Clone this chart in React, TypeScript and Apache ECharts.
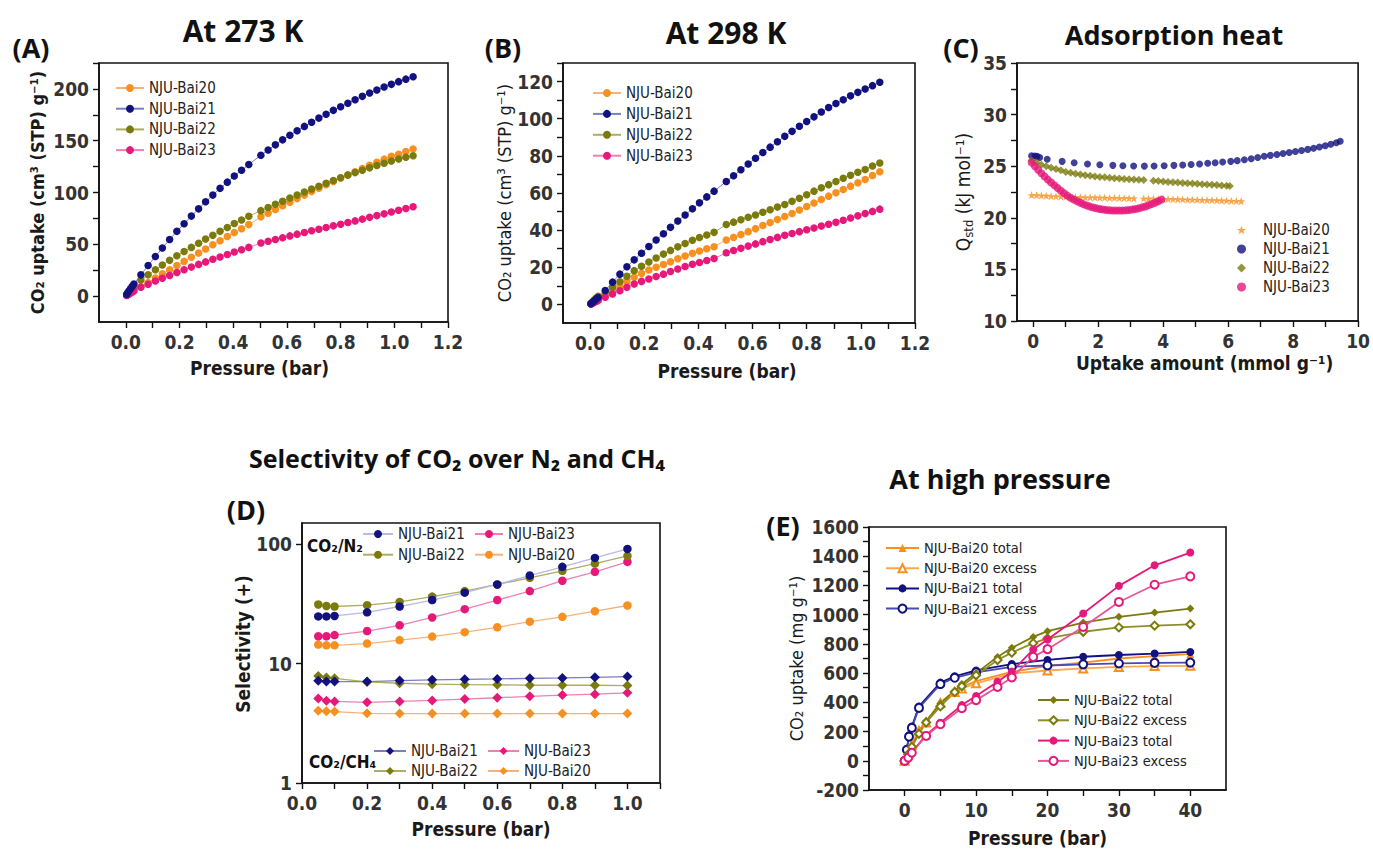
import React, { useEffect, useRef } from "react";
import * as echarts from "echarts";

// ---------- Panel A / B : isotherms (pressure in bar) ----------
const pressureIso = [0.003, 0.007, 0.012, 0.018, 0.024, 0.03, 0.056, 0.083, 0.110, 0.136, 0.163, 0.190, 0.217, 0.244, 0.271, 0.297, 0.324, 0.351, 0.378, 0.404, 0.431, 0.458, 0.503, 0.530, 0.557, 0.584, 0.611, 0.638, 0.665, 0.692, 0.719, 0.746, 0.773, 0.800, 0.827, 0.854, 0.881, 0.908, 0.935, 0.962, 0.989, 1.016, 1.043, 1.070];

const a273Bai20 = [0.8, 1.6, 2.5, 3.6, 4.6, 5.6, 9, 13, 17.5, 21.5, 25.5, 29.5, 33.5, 37.5, 41.5, 45.5, 49.5, 53.5, 57.5, 61.3, 65, 69, 76.5, 80, 83.6, 87.2, 90.7, 94.1, 97.5, 100.9, 104.2, 107.5, 110.7, 113.9, 117, 120.1, 123.2, 126.2, 129.2, 132.2, 135, 137, 139.5, 142];
const a273Bai21 = [1.5, 3.2, 5.2, 7.4, 9.6, 11.6, 20.5, 29.5, 38.2, 46.5, 54.6, 62.5, 69.8, 77.2, 84.2, 91, 97.5, 104, 110, 116, 121.5, 127, 136, 141, 146, 150.8, 155.3, 159.6, 163.8, 167.8, 171.8, 175.6, 179.3, 182.8, 186.2, 189.6, 192.8, 196, 199, 201.8, 204.4, 207, 209.4, 211.8];
const a273Bai22 = [1.2, 2.5, 4, 5.8, 7.5, 9, 15.5, 20.5, 25.5, 30, 34.5, 39, 43, 47, 51, 55, 58.8, 62.5, 66.2, 70, 73.5, 77, 82.5, 85.6, 88.6, 91.6, 94.6, 97.5, 100.4, 103.3, 106.1, 108.9, 111.6, 114.3, 116.8, 119.2, 121.5, 123.8, 126, 128.2, 130.3, 132.3, 134, 135.5];
const a273Bai23 = [0.5, 1.2, 2, 3, 4, 5, 8.5, 11.5, 14.5, 17.3, 20, 22.8, 25.5, 28, 30.6, 33, 35.5, 37.8, 40.2, 42.5, 44.7, 47, 51.3, 53, 54.7, 56.4, 58.1, 59.8, 61.4, 63, 64.6, 66.2, 67.8, 69.4, 71, 72.6, 74.3, 76, 77.7, 79.4, 81.1, 82.8, 84.5, 86.2];

const b298Bai20 = [0.3, 0.7, 1.1, 1.6, 2.1, 2.6, 4.8, 7.3, 9.8, 12.3, 14.7, 16.7, 18.5, 20, 21.5, 23, 24.6, 26.1, 27.5, 28.8, 30, 31.1, 34.7, 36.1, 37.6, 39.2, 40.8, 42.5, 44.1, 45.7, 47.3, 49, 50.8, 52.7, 54.6, 56.5, 58.3, 60.1, 61.9, 63.7, 65.5, 67.3, 69.4, 71.4];
const b298Bai21 = [0.4, 0.9, 1.5, 2.2, 3, 3.7, 7.5, 12, 16.3, 20.3, 24, 27.6, 31.2, 34.7, 38.1, 41.5, 44.9, 48.2, 51.5, 54.7, 57.9, 61, 66.2, 69.3, 72.5, 75.6, 78.7, 81.8, 84.7, 87.6, 90.5, 93.2, 95.9, 98.5, 101, 103.6, 106, 108.2, 110.2, 112.3, 114.2, 116, 117.8, 119.6];
const b298Bai22 = [0.5, 1.1, 1.9, 2.8, 3.6, 4.4, 6.5, 9.2, 12.2, 15.2, 18.2, 20.5, 22.8, 25, 27.1, 29.1, 31, 32.8, 34.5, 36, 37.4, 38.8, 43, 44.3, 45.6, 46.9, 48.2, 49.6, 51, 52.4, 53.8, 55.5, 57.2, 59.1, 61, 62.8, 64.5, 66.2, 67.9, 69.6, 71.2, 72.7, 74.5, 76.2];
const b298Bai23 = [0.2, 0.5, 0.9, 1.3, 1.7, 2.1, 3.8, 5.6, 7.4, 9.2, 11, 12.4, 13.7, 15, 16.3, 17.7, 19.1, 20.4, 21.6, 22.6, 23.7, 24.7, 27.8, 29, 30.2, 31.4, 32.6, 33.8, 35, 36.1, 37.2, 38.2, 39.2, 40.2, 41.2, 42.2, 43.2, 44.2, 45.3, 46.5, 47.7, 48.9, 50.1, 51.3];

// ---------- Panel C : adsorption heat ----------
const uptakeBai20 = [-0.05, 0.1, 0.25, 0.4, 0.55, 0.7, 0.85, 1.0, 1.15, 1.3, 1.45, 1.6, 1.75, 1.9, 2.05, 2.2, 2.35, 2.5, 2.65, 2.8, 2.95, 3.1, 3.4, 3.55, 3.7, 3.85, 4.0, 4.15, 4.3, 4.45, 4.6, 4.75, 4.9, 5.05, 5.2, 5.35, 5.5, 5.65, 5.8, 5.95, 6.1, 6.25, 6.4];
const heatBai20 = [22.2, 22.18, 22.15, 22.13, 22.1, 22.08, 22.06, 22.04, 22.02, 22.0, 21.99, 21.98, 21.97, 21.96, 21.95, 21.94, 21.93, 21.92, 21.91, 21.9, 21.89, 21.88, 21.86, 21.85, 21.84, 21.83, 21.82, 21.81, 21.8, 21.79, 21.78, 21.76, 21.75, 21.74, 21.72, 21.71, 21.7, 21.68, 21.67, 21.65, 21.64, 21.62, 21.6];
const uptakeBai21 = [-0.05, 0.05, 0.12, 0.2, 0.43, 0.89, 1.26, 1.67, 2.05, 2.45, 2.76, 3.09, 3.42, 3.72, 4.03, 4.33, 4.6, 4.86, 5.12, 5.37, 5.6, 5.83, 6.08, 6.28, 6.5, 6.71, 6.91, 7.11, 7.3, 7.5, 7.69, 7.88, 8.07, 8.26, 8.45, 8.63, 8.81, 8.99, 9.16, 9.33, 9.45];
const heatBai21 = [26.0, 25.98, 25.95, 25.85, 25.67, 25.47, 25.33, 25.22, 25.14, 25.08, 25.04, 25.02, 25.01, 25.02, 25.04, 25.08, 25.12, 25.17, 25.22, 25.28, 25.34, 25.4, 25.47, 25.54, 25.62, 25.72, 25.84, 25.96, 26.05, 26.14, 26.23, 26.32, 26.42, 26.52, 26.63, 26.74, 26.86, 26.98, 27.12, 27.28, 27.42];
const uptakeBai22 = [-0.05, 0.1, 0.25, 0.4, 0.55, 0.7, 0.85, 1.0, 1.15, 1.3, 1.45, 1.6, 1.75, 1.9, 2.05, 2.2, 2.35, 2.5, 2.65, 2.8, 2.95, 3.1, 3.25, 3.4, 3.7, 3.85, 4.0, 4.15, 4.3, 4.45, 4.6, 4.75, 4.9, 5.05, 5.2, 5.35, 5.5, 5.65, 5.8, 5.95, 6.05];
const heatBai22 = [25.55, 25.35, 25.15, 25.0, 24.85, 24.73, 24.6, 24.45, 24.36, 24.28, 24.2, 24.13, 24.07, 24.01, 23.96, 23.92, 23.88, 23.84, 23.8, 23.77, 23.74, 23.71, 23.68, 23.66, 23.6, 23.56, 23.52, 23.48, 23.45, 23.41, 23.38, 23.35, 23.32, 23.29, 23.26, 23.23, 23.2, 23.17, 23.14, 23.1, 23.07];
const uptakeBai23 = [-0.05, 0.05, 0.15, 0.25, 0.35, 0.45, 0.55, 0.65, 0.75, 0.85, 0.95, 1.05, 1.15, 1.25, 1.35, 1.45, 1.55, 1.65, 1.75, 1.85, 1.95, 2.05, 2.15, 2.25, 2.35, 2.45, 2.55, 2.65, 2.75, 2.85, 2.95, 3.05, 3.15, 3.25, 3.35, 3.45, 3.55, 3.65, 3.75, 3.85, 3.95];
const heatBai23 = [25.35, 25.0, 24.65, 24.32, 24.0, 23.7, 23.42, 23.15, 22.88, 22.62, 22.38, 22.15, 21.95, 21.76, 21.6, 21.45, 21.31, 21.19, 21.08, 20.99, 20.91, 20.85, 20.8, 20.76, 20.73, 20.71, 20.7, 20.7, 20.71, 20.73, 20.76, 20.8, 20.86, 20.93, 21.01, 21.1, 21.21, 21.33, 21.46, 21.6, 21.76];

// ---------- Panel D : selectivity ----------
const pressureSel = [0.05, 0.075, 0.1, 0.2, 0.3, 0.4, 0.5, 0.6, 0.7, 0.8, 0.9, 1.0];
const n2Bai21 = [24.8, 24.8, 25, 26.8, 30, 34, 39.2, 45.9, 54.5, 64.4, 76.5, 90.9];
const n2Bai22 = [31.2, 30.3, 30, 30.8, 32.8, 36.3, 40.4, 45.9, 52.2, 59.7, 68.7, 79.5];
const n2Bai23 = [16.9, 16.9, 17.3, 18.7, 20.9, 24.3, 28.5, 34, 40.4, 49.3, 58.6, 70.9];
const n2Bai20 = [14.4, 14.2, 14.2, 14.7, 15.7, 16.8, 18.3, 20.1, 22.4, 24.6, 27.4, 30.6];
const ch4Bai21 = [7.16, 7.06, 7.06, 7.06, 7.2, 7.3, 7.38, 7.43, 7.52, 7.57, 7.67, 7.77];
const ch4Bai22 = [7.88, 7.62, 7.52, 7.02, 6.84, 6.71, 6.67, 6.63, 6.58, 6.58, 6.58, 6.54];
const ch4Bai23 = [5.1, 4.88, 4.82, 4.73, 4.82, 4.91, 5.04, 5.17, 5.31, 5.44, 5.54, 5.69];
const ch4Bai20 = [4.03, 3.98, 3.96, 3.83, 3.81, 3.81, 3.81, 3.81, 3.81, 3.81, 3.81, 3.81];

// ---------- Panel E : high pressure ----------
const pHighBai20 = [0, 0.5, 1, 2, 3, 5, 7, 8, 10, 15, 20, 25, 30, 35, 40];
const totalBai20 = [0, 60, 115, 210, 267, 400, 478, 505, 545, 608, 650, 672, 700, 716, 730];
const excessBai20 = [0, 55, 110, 205, 262, 395, 470, 495, 530, 597, 618, 632, 642, 648, 650];
const pHighBai21 = [0, 0.3, 0.6, 1, 2, 5, 7, 10, 15, 20, 25, 30, 35, 40];
const totalBai21 = [0, 80, 175, 235, 372, 535, 578, 618, 662, 690, 712, 724, 734, 745];
const excessBai21 = [0, 75, 165, 225, 362, 525, 568, 605, 643, 652, 660, 666, 670, 672];
const pHighBai22 = [0, 0.5, 1, 2, 3, 5, 7, 8, 10, 13, 15, 18, 20, 25, 30, 35, 40];
const totalBai22 = [0, 50, 100, 190, 272, 392, 480, 525, 600, 711, 773, 848, 887, 946, 985, 1014, 1042];
const excessBai22 = [0, 45, 95, 185, 262, 372, 470, 510, 585, 690, 740, 805, 838, 883, 913, 925, 934];
const pHighBai23 = [0, 0.5, 1, 3, 5, 8, 10, 13, 15, 18, 20, 25, 30, 35, 40];
const totalBai23 = [0, 25, 60, 176, 260, 381, 443, 541, 610, 762, 830, 1008, 1197, 1338, 1425];
const excessBai23 = [0, 22, 55, 170, 250, 360, 415, 505, 570, 711, 764, 916, 1087, 1205, 1262];

// ---------- tick labels ----------
const isoXLabels = [0, 0.2, 0.4, 0.6, 0.8, 1.0, 1.2];
const isoXTicks = [0, 0.1, 0.2, 0.3, 0.4, 0.5, 0.6, 0.7, 0.8, 0.9, 1.0, 1.1, 1.2];
const aYLabels = [0, 50, 100, 150, 200];
const aYTicks = [0, 25, 50, 75, 100, 125, 150, 175, 200, 225];
const bYLabels = [0, 20, 40, 60, 80, 100, 120];
const bYTicks = [0, 10, 20, 30, 40, 50, 60, 70, 80, 90, 100, 110, 120, 130];
const cXLabels = [0, 2, 4, 6, 8, 10];
const cXTicks = [0, 1, 2, 3, 4, 5, 6, 7, 8, 9, 10];
const cYLabels = [10, 15, 20, 25, 30, 35];
const cYTicks = [10, 12.5, 15, 17.5, 20, 22.5, 25, 27.5, 30, 32.5, 35];
const dXLabels = [0, 0.2, 0.4, 0.6, 0.8, 1.0];
const dXTicks = [0, 0.1, 0.2, 0.3, 0.4, 0.5, 0.6, 0.7, 0.8, 0.9, 1.0, 1.1];
const dYLabels = [1, 10, 100];
const eXLabels = [0, 10, 20, 30, 40];
const eXTicks = [0, 5, 10, 15, 20, 25, 30, 35, 40];
const eYLabels = [-200, 0, 200, 400, 600, 800, 1000, 1200, 1400, 1600];
const eYTicks = [-200, -100, 0, 100, 200, 300, 400, 500, 600, 700, 800, 900, 1000, 1100, 1200, 1300, 1400, 1500, 1600];

const FONT = "'Liberation Sans Narrow', 'DejaVu Sans Condensed', 'Roboto Condensed', 'Liberation Sans', sans-serif";
const TITLE_FONT = "'Open Sans', 'Noto Sans', 'DejaVu Sans', sans-serif";

const C20 = "#f8901f";
const C21 = "#11117f";
const C22 = "#7b7b0d";
const C23 = "#e6197a";
const L20 = "#f6b27a";
const L21 = "#7d7dc2";
const L22 = "#adad66";
const L23 = "#ee80b2";

const STAR = "path://M12,1 L15,9 L23,9 L16.5,14 L19,22 L12,17 L5,22 L7.5,14 L1,9 L9,9 Z";

const zip = (xs: number[], ys: number[]) => xs.map((x, i) => [x, ys[i]]);
const strip = (n: string) => n.split("|")[1];

function makeXAxis(gi: number, min: number, max: number, labels: number[], ticks: number[], fmt: (v: number) => string, name: string, nameGap: number, bold: boolean, extra: any = {}) {
  return {
    type: "value", gridIndex: gi, min, max,
    name, nameLocation: "middle", nameGap,
    nameTextStyle: { fontFamily: FONT, fontSize: 19, fontWeight: bold ? "bold" : "normal", color: "#1a1a1a", ...(extra.nameTextStyle || {}) },
    axisLine: { show: true, onZero: false, lineStyle: { color: "#111", width: 1.6 } },
    axisTick: { show: true, customValues: ticks, length: 6, lineStyle: { color: "#111", width: 1.4 } },
    axisLabel: { customValues: labels, formatter: fmt, fontFamily: FONT, fontSize: 19, fontWeight: "bold", color: "#333", margin: 10 },
    splitLine: { show: false },
  };
}

function makeYAxis(gi: number, min: number, max: number, labels: number[], ticks: number[], fmt: (v: number) => string, name: string, nameGap: number, bold: boolean, extra: any = {}) {
  return {
    type: "value", gridIndex: gi, min, max,
    name, nameLocation: "middle", nameGap,
    nameTextStyle: { fontFamily: FONT, fontSize: 18, fontWeight: bold ? "bold" : "normal", color: "#1a1a1a", ...(extra.nameTextStyle || {}) },
    axisLine: { show: true, onZero: false, lineStyle: { color: "#111", width: 1.6 } },
    axisTick: { show: true, customValues: ticks, length: 6, lineStyle: { color: "#111", width: 1.4 } },
    axisLabel: { customValues: labels, formatter: fmt, fontFamily: FONT, fontSize: 19, fontWeight: "bold", color: "#333", margin: 10 },
    splitLine: { show: false },
  };
}

function isoSeries(prefix: string, gi: number, name: string, xs: number[], ys: number[], color: string, light: string) {
  return {
    type: "line", name: prefix + "|" + name, xAxisIndex: gi, yAxisIndex: gi,
    data: zip(xs, ys), symbol: "circle", symbolSize: 7.5,
    itemStyle: { color }, lineStyle: { color: light, width: 1 },
    emphasis: { disabled: true }, silent: true,
  };
}

function heatSeries(name: string, xs: number[], ys: number[], color: string, symbol: string, size: number) {
  return {
    type: "scatter", name: "C|" + name, xAxisIndex: 2, yAxisIndex: 2,
    data: zip(xs, ys), symbol, symbolSize: size,
    itemStyle: { color }, emphasis: { disabled: true }, silent: true,
  };
}

function selSeries(prefix: string, name: string, ys: number[], color: string, line: string, symbol: string) {
  return {
    type: "line", name: prefix + "|" + name, xAxisIndex: 3, yAxisIndex: 3,
    data: zip(pressureSel, ys), symbol, symbolSize: symbol === "diamond" ? 10 : 8.5,
    itemStyle: { color }, lineStyle: { color: line, width: 1.3 },
    emphasis: { disabled: true }, silent: true,
  };
}

function highSeries(name: string, xs: number[], ys: number[], color: string, line: string, symbol: string) {
  return {
    type: "line", name: "E|" + name, xAxisIndex: 4, yAxisIndex: 4,
    data: zip(xs, ys), symbol, symbolSize: 8,
    itemStyle: { color, borderWidth: 1.3 }, lineStyle: { color: line, width: 1.8 },
    emphasis: { disabled: true }, silent: true,
  };
}

const legendText = { fontFamily: FONT, fontSize: 15, color: "#222", lineHeight: 16 };

function legend(data: string[], left: number, top: number, itemWidth: number, itemHeight: number, itemGap: number, extra: any = {}) {
  return {
    data, orient: "vertical", left, top, itemWidth, itemHeight, itemGap,
    formatter: strip, selectedMode: false, padding: 0,
    textStyle: { ...legendText, ...(extra.textStyle || {}) },
  };
}

function titleText(text: string, x: number, y: number, size: number) {
  return {
    type: "text", x, y, silent: true,
    style: { text, fontFamily: TITLE_FONT, fontSize: size, fontWeight: "bold", fill: "#111", align: "center", verticalAlign: "middle" },
  };
}

function buildOption() {
  const f1 = (v: number) => v.toFixed(1);
  const f0 = (v: number) => String(Math.round(v));
  return {
    animation: false,
    backgroundColor: "#ffffff",
    grid: [
      { left: 99, top: 63, width: 349, height: 259, show: true, borderColor: "#111", borderWidth: 1.6, backgroundColor: "transparent" },
      { left: 563, top: 63, width: 352, height: 260, show: true, borderColor: "#111", borderWidth: 1.6, backgroundColor: "transparent" },
      { left: 1017, top: 63, width: 348, height: 258, show: true, borderColor: "#111", borderWidth: 1.6, backgroundColor: "transparent" },
      { left: 302, top: 523, width: 358, height: 260, show: true, borderColor: "#111", borderWidth: 1.6, backgroundColor: "transparent" },
      { left: 869, top: 527, width: 357, height: 263, show: true, borderColor: "#111", borderWidth: 1.6, backgroundColor: "transparent" },
    ],
    xAxis: [
      makeXAxis(0, -0.1, 1.2, isoXLabels, isoXTicks, f1, "Pressure (bar)", 36, true, { nameTextStyle: { padding: [0, 28, 0, 0] } }),
      makeXAxis(1, -0.1, 1.2, isoXLabels, isoXTicks, f1, "Pressure (bar)", 38, true, { nameTextStyle: { padding: [0, 24, 0, 0] } }),
      makeXAxis(2, -0.5, 10, cXLabels, cXTicks, f0, "Uptake amount (mmol g⁻¹)", 32, true, { nameTextStyle: { padding: [0, 0, 0, 34] } }),
      makeXAxis(3, 0, 1.1, dXLabels, dXTicks, f1, "Pressure (bar)", 36, true),
      makeXAxis(4, -5, 45, eXLabels, eXTicks, f0, "Pressure (bar)", 38, true, { nameTextStyle: { padding: [0, 20, 0, 0] } }),
    ],
    yAxis: [
      makeYAxis(0, -25, 225, aYLabels, aYTicks, f0, "CO₂ uptake (cm³ (STP) g⁻¹)", 53, true),
      makeYAxis(1, -10, 130, bYLabels, bYTicks, f0, "CO₂ uptake (cm³ (STP) g⁻¹)", 48, false),
      {
        ...makeYAxis(2, 10, 35, cYLabels, cYTicks, f0, "Q{s|std} (kJ mol⁻¹)", 42, false),
        nameTextStyle: {
          fontFamily: FONT, fontSize: 19, color: "#1a1a1a", lineHeight: 24,
          rich: { s: { fontFamily: FONT, fontSize: 13, color: "#1a1a1a", verticalAlign: "bottom", lineHeight: 14, padding: [10, 0, 0, 0] } },
        },
      },
      {
        type: "log", gridIndex: 3, min: 1, max: 150, logBase: 10,
        name: "Selectivity (+)", nameLocation: "middle", nameGap: 45,
        nameTextStyle: { fontFamily: FONT, fontSize: 19, fontWeight: "bold", color: "#1a1a1a", padding: [0, 0, 0, 18] },
        axisLine: { show: true, onZero: false, lineStyle: { color: "#111", width: 1.6 } },
        axisTick: { show: true, length: 6, lineStyle: { color: "#111", width: 1.4 } },
        axisLabel: {
          formatter: (v: number) => (dYLabels.indexOf(Math.round(v)) >= 0 && Math.abs(v - Math.round(v)) < 1e-6 ? String(Math.round(v)) : ""),
          fontFamily: FONT, fontSize: 19, fontWeight: "bold", color: "#333", margin: 10, showMaxLabel: false,
        },
        splitLine: { show: false },
      },
      makeYAxis(4, -200, 1600, eYLabels, eYTicks, f0, "CO₂ uptake (mg g⁻¹)", 64, false),
    ],
    legend: [
      legend(["A|NJU-Bai20", "A|NJU-Bai21", "A|NJU-Bai22", "A|NJU-Bai23"], 115, 80, 28, 10, 4.7),
      legend(["B|NJU-Bai20", "B|NJU-Bai21", "B|NJU-Bai22", "B|NJU-Bai23"], 592, 85, 28, 10, 4.9),
      legend(["C|NJU-Bai20", "C|NJU-Bai21", "C|NJU-Bai22", "C|NJU-Bai23"], 1237, 222, 9, 9, 3, { textStyle: { padding: [0, 0, 0, 12] } }),
      legend(["N2|NJU-Bai21", "N2|NJU-Bai22"], 362, 526, 30, 10, 4.7),
      legend(["N2|NJU-Bai23", "N2|NJU-Bai20"], 474, 526, 28, 10, 4.7),
      legend(["CH4|NJU-Bai21", "CH4|NJU-Bai22"], 373, 743, 32, 10, 4),
      legend(["CH4|NJU-Bai23", "CH4|NJU-Bai20"], 487, 743, 31, 10, 4),
      legend(["E|NJU-Bai20 total", "E|NJU-Bai20 excess", "E|NJU-Bai21 total", "E|NJU-Bai21 excess"], 885, 540, 33, 10, 4.2, { textStyle: { fontSize: 14.5 } }),
      legend(["E|NJU-Bai22 total", "E|NJU-Bai22 excess", "E|NJU-Bai23 total", "E|NJU-Bai23 excess"], 1037, 692, 31, 10, 4.3, { textStyle: { fontSize: 14.5 } }),
    ],
    series: [
      isoSeries("A", 0, "NJU-Bai20", pressureIso, a273Bai20, C20, L20),
      isoSeries("A", 0, "NJU-Bai22", pressureIso, a273Bai22, C22, L22),
      isoSeries("A", 0, "NJU-Bai23", pressureIso, a273Bai23, C23, L23),
      isoSeries("A", 0, "NJU-Bai21", pressureIso, a273Bai21, C21, L21),
      isoSeries("B", 1, "NJU-Bai20", pressureIso, b298Bai20, C20, L20),
      isoSeries("B", 1, "NJU-Bai22", pressureIso, b298Bai22, C22, L22),
      isoSeries("B", 1, "NJU-Bai23", pressureIso, b298Bai23, C23, L23),
      isoSeries("B", 1, "NJU-Bai21", pressureIso, b298Bai21, C21, L21),
      heatSeries("NJU-Bai20", uptakeBai20, heatBai20, C20, STAR, 8),
      heatSeries("NJU-Bai21", uptakeBai21, heatBai21, C21, "circle", 7),
      heatSeries("NJU-Bai22", uptakeBai22, heatBai22, C22, "diamond", 8),
      heatSeries("NJU-Bai23", uptakeBai23, heatBai23, C23, "circle", 8),
      selSeries("N2", "NJU-Bai20", n2Bai20, C20, L20, "circle"),
      selSeries("N2", "NJU-Bai23", n2Bai23, C23, L23, "circle"),
      selSeries("N2", "NJU-Bai22", n2Bai22, C22, L22, "circle"),
      selSeries("N2", "NJU-Bai21", n2Bai21, C21, "#b9b9e6", "circle"),
      selSeries("CH4", "NJU-Bai20", ch4Bai20, C20, L20, "diamond"),
      selSeries("CH4", "NJU-Bai23", ch4Bai23, C23, L23, "diamond"),
      selSeries("CH4", "NJU-Bai22", ch4Bai22, C22, L22, "diamond"),
      selSeries("CH4", "NJU-Bai21", ch4Bai21, C21, L21, "diamond"),
      highSeries("NJU-Bai20 total", pHighBai20, totalBai20, C20, C20, "triangle"),
      highSeries("NJU-Bai20 excess", pHighBai20, excessBai20, C20, "#f9a850", "emptyTriangle"),
      highSeries("NJU-Bai21 total", pHighBai21, totalBai21, C21, C21, "circle"),
      highSeries("NJU-Bai21 excess", pHighBai21, excessBai21, C21, "#4a4ab0", "emptyCircle"),
      highSeries("NJU-Bai22 total", pHighBai22, totalBai22, C22, C22, "diamond"),
      highSeries("NJU-Bai22 excess", pHighBai22, excessBai22, C22, "#8f8f2a", "emptyDiamond"),
      highSeries("NJU-Bai23 total", pHighBai23, totalBai23, C23, C23, "circle"),
      highSeries("NJU-Bai23 excess", pHighBai23, excessBai23, C23, "#e8559a", "emptyCircle"),
    ],
    graphic: [
      titleText("(A)", 31, 47, 27),
      titleText("At 273 K", 243, 30, 30),
      titleText("(B)", 503, 47, 27),
      titleText("At 298 K", 726, 32, 30),
      titleText("(C)", 961, 47, 27),
      titleText("Adsorption heat", 1174, 34, 27),
      titleText("Selectivity of CO₂ over N₂ and CH₄", 457, 458, 25),
      titleText("(D)", 246, 509, 27),
      titleText("At high pressure", 1000, 478, 27),
      titleText("(E)", 783, 525, 27),
      {
        type: "text", x: 307, y: 546, silent: true,
        style: { text: "CO₂/N₂", fontFamily: FONT, fontSize: 17, fontWeight: "bold", fill: "#111", align: "left", verticalAlign: "middle" },
      },
      {
        type: "text", x: 309, y: 762, silent: true,
        style: { text: "CO₂/CH₄", fontFamily: FONT, fontSize: 17, fontWeight: "bold", fill: "#111", align: "left", verticalAlign: "middle" },
      },
    ],
  };
}

export default function App() {
  const ref = useRef<HTMLDivElement>(null);
  useEffect(() => {
    if (!ref.current) return;
    const chart = echarts.init(ref.current, null, { renderer: "svg" });
    chart.setOption(buildOption() as any);
    return () => chart.dispose();
  }, []);
  return (
    <div
      ref={ref}
      style={{ position: "absolute", left: 0, top: 0, width: 1373, height: 850, background: "#ffffff" }}
    />
  );
}
